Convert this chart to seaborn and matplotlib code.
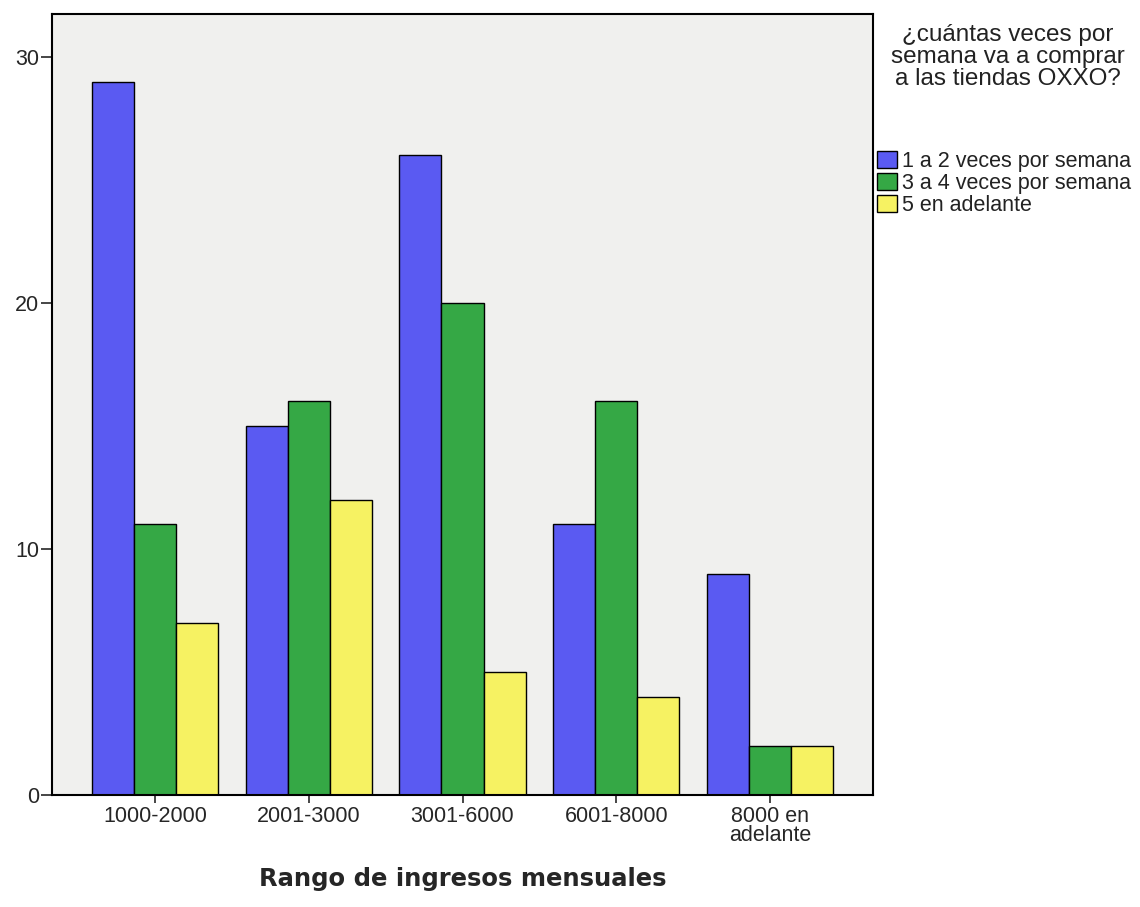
import matplotlib
matplotlib.use("Agg")
import matplotlib.pyplot as plt
import seaborn as sns
import pandas as pd

categories = ["1000-2000", "2001-3000", "3001-6000", "6001-8000", "8000 en\nadelante"]
series_names = ["1 a 2 veces por semana", "3 a 4 veces por semana", "5 en adelante"]
vals_1a2 = [29, 15, 26, 11, 9]
vals_3a4 = [11, 16, 20, 16, 2]
vals_5 = [7, 12, 5, 4, 2]
colors = ["#5a5af2", "#35a845", "#f6f262"]
legend_title = "¿cuántas veces por\nsemana va a comprar\na las tiendas OXXO?"
x_title = "Rango de ingresos mensuales"

rows = []
for name, vals in zip(series_names, [vals_1a2, vals_3a4, vals_5]):
    for c, v in zip(categories, vals):
        rows.append({"cat": c, "serie": name, "n": v})
df = pd.DataFrame(rows)

sns.set_style("white")
plt.rcParams["font.family"] = ["Liberation Sans", "DejaVu Sans"]

W, H = 1140, 907
fig = plt.figure(figsize=(W / 100, H / 100), dpi=100)
ax = fig.add_axes([52 / W, 1 - 795 / H, (873 - 52) / W, (795 - 14) / H])
ax.set_facecolor("#f0f0ee")

sns.barplot(data=df, x="cat", y="n", hue="serie", order=categories,
            hue_order=series_names, palette=colors, width=0.82, gap=0,
            edgecolor="black", linewidth=1.0, saturation=1, ax=ax, errorbar=None)

ax.set_xlim(-0.67, 4.67)
ax.set_ylim(0, 31.75)
ax.set_yticks([0, 10, 20, 30])
ax.set_yticklabels(["0", "10", "20", "30"], fontsize=15.5)
ax.tick_params(axis="x", labelsize=15.5, length=6, width=1.2, direction="out",
               bottom=True, pad=2)
ax.tick_params(axis="y", length=8, width=1.2, direction="out", left=True, pad=1)
for lab in ax.get_xticklabels():
    lab.set_linespacing(0.85)
for s in ax.spines.values():
    s.set_color("black")
    s.set_linewidth(1.5)
ax.set_ylabel("")
ax.set_xlabel(x_title, fontsize=17.5, fontweight="bold", family="DejaVu Sans", labelpad=15)

# legend title (SPSS style, centered above entries)
fig.text(1008 / W, 1 - 57 / H, legend_title, ha="center", va="center",
         multialignment="center", fontsize=17.5, linespacing=1.0, color="#222222")

leg = ax.legend(loc="upper left", bbox_to_anchor=(877 / W, 1 - 151 / H),
                bbox_transform=fig.transFigure, frameon=False,
                fontsize=15.5, handlelength=0.93, handleheight=0.8,
                handletextpad=0.23, labelspacing=0.05, borderpad=0,
                borderaxespad=0)
for t in leg.get_texts():
    t.set_color("#222222")

fig.savefig("out.png", dpi=100)
